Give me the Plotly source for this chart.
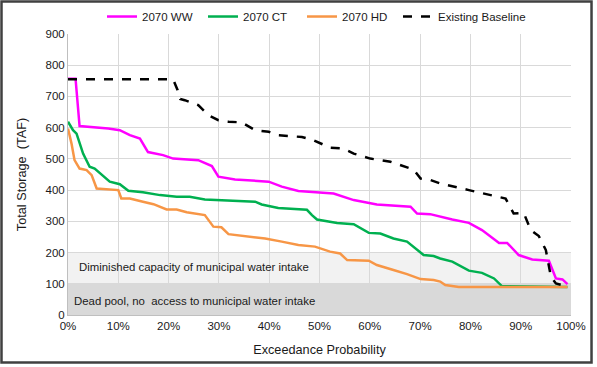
import plotly.graph_objects as go

# ---- data (exceedance probability in %, storage in TAF) ----
ww_x = [0, 1.5, 2.3, 6.3, 8.0, 10.3, 12.3, 14.3, 15.9, 18.9, 20.9, 25.9, 28.6, 29.9, 33.2, 39.9,
        42.5, 45.8, 49.1, 52.8, 56.8, 61.4, 68.1, 69.4, 72.0, 74.0, 76.4, 79.7, 82.3, 85.7, 87.3,
        89.6, 92.3, 95.6, 97.0, 98.3, 99.3]
ww_y = [757, 757, 605, 600, 597, 592, 576, 565, 522, 512, 501, 496, 477, 443, 434, 427,
        411, 397, 393, 389, 368, 354, 347, 325, 323, 315, 306, 295, 272, 231, 231,
        192, 178, 174, 117, 114, 99]

ct_x = [0, 1.0, 1.7, 3.0, 4.3, 5.3, 8.3, 10.3, 12.0, 14.9, 18.3, 21.6, 24.2, 27.2, 37.2, 38.5,
        41.8, 46.5, 47.5, 48.5, 49.5, 53.5, 56.8, 59.8, 62.1, 64.7, 67.4, 70.7, 72.7, 74.0, 76.4,
        79.7, 82.3, 84.7, 86.3, 99.3]
ct_y = [619, 592, 581, 517, 475, 469, 427, 419, 398, 393, 384, 379, 379, 370, 363, 354,
        343, 339, 337, 320, 306, 295, 291, 263, 261, 245, 235, 192, 189, 181, 171,
        142, 135, 117, 92, 90]

hd_x = [0, 0.7, 1.3, 2.3, 3.7, 4.7, 5.7, 9.0, 10.0, 10.6, 12.3, 14.9, 17.0, 19.6, 21.6, 23.6,
        27.2, 28.9, 30.5, 31.9, 35.2, 39.2, 42.5, 45.8, 49.1, 52.1, 54.1, 55.5, 59.8, 61.4, 64.7,
        67.4, 70.1, 72.7, 74.0, 75.0, 77.7, 99.3]
hd_y = [597, 549, 496, 469, 464, 448, 405, 400, 400, 373, 373, 363, 355, 338, 338, 329,
        320, 283, 281, 259, 253, 245, 235, 224, 219, 203, 197, 176, 174, 160, 144,
        131, 115, 112, 107, 96, 90, 90]

base_x = [0, 20.9, 21.8, 22.3, 23.2, 25.9, 27.9, 29.9, 31.9, 34.5, 37.2, 39.9, 41.8, 46.5, 48.8,
          52.1, 54.8, 56.8, 60.1, 64.1, 68.7, 70.1, 72.1, 74.0, 79.7, 84.3, 87.0, 88.6, 90.6,
          92.0, 93.6, 95.0, 96.0, 97.0, 99.3]
base_y = [755, 755, 720, 692, 688, 672, 640, 624, 619, 617, 592, 587, 576, 570, 560,
          536, 533, 517, 501, 491, 466, 437, 432, 421, 400, 384, 373, 325, 327,
          272, 253, 208, 123, 101, 91]

x_ticks = [0, 10, 20, 30, 40, 50, 60, 70, 80, 90, 100]
y_ticks = [0, 100, 200, 300, 400, 500, 600, 700, 800, 900]

band_dead = (0, 100)
band_dim = (100, 200)
band_dead_label = "Dead pool, no  access to municipal water intake"
band_dim_label = "Diminished capacity of municipal water intake"

FONT = "Liberation Sans, Arial, sans-serif"
TXT = "#1a1a1a"

fig = go.Figure()
fig.add_trace(go.Scatter(x=ww_x, y=ww_y, mode="lines", name="2070 WW", legend="legend",
                         line=dict(color="#FF00FF", width=2.5)))
fig.add_trace(go.Scatter(x=ct_x, y=ct_y, mode="lines", name="2070 CT", legend="legend2",
                         line=dict(color="#00B050", width=2.5)))
fig.add_trace(go.Scatter(x=hd_x, y=hd_y, mode="lines", name="2070 HD", legend="legend3",
                         line=dict(color="#F79646", width=2.5)))
fig.add_trace(go.Scatter(x=base_x, y=base_y, mode="lines", name="Existing Baseline",
                         legend="legend4",
                         line=dict(color="#000000", width=2.5, dash="dash")))

# shaded bands
fig.add_shape(type="rect", xref="x", yref="y", x0=0, x1=100, y0=band_dim[0], y1=band_dim[1],
              fillcolor="#F2F2F2", line=dict(width=0), layer="below")
fig.add_shape(type="rect", xref="x", yref="y", x0=0, x1=100, y0=band_dead[0], y1=band_dead[1],
              fillcolor="#D9D9D9", line=dict(width=0), layer="below")

fig.add_annotation(x=1.8, y=154, xref="x", yref="y", text=band_dim_label, showarrow=False,
                   xanchor="left", yanchor="middle", font=dict(family=FONT, size=11.4, color=TXT))
fig.add_annotation(x=0.7, y=45, xref="x", yref="y", text=band_dead_label, showarrow=False,
                   xanchor="left", yanchor="middle", font=dict(family=FONT, size=11.4, color=TXT))

# outer chart border
fig.add_shape(type="rect", xref="paper", yref="paper", x0=-0.1322, x1=1.0408, y0=-0.169, y1=1.1157,
              line=dict(color="#404040", width=2.5), fillcolor="rgba(0,0,0,0)", layer="above")

fig.update_xaxes(range=[0, 100], tickvals=x_ticks, ticktext=[f"{v}%" for v in x_ticks],
                 showgrid=True, gridcolor="#D9D9D9", gridwidth=1, zeroline=False,
                 showline=True, linecolor="#BFBFBF", linewidth=1, mirror=False, automargin=False,
                 ticks="", title=dict(text="Exceedance Probability", standoff=14,
                                      font=dict(family=FONT, size=12.7, color=TXT)),
                 tickfont=dict(family=FONT, size=11.5, color=TXT))
fig.update_yaxes(range=[0, 900], tickvals=y_ticks, showgrid=True, gridcolor="#D9D9D9",
                 gridwidth=1, zeroline=False, showline=True, linecolor="#BFBFBF", linewidth=1,
                 automargin=False,
                 ticks="", title=dict(text="Total Storage  (TAF)", standoff=16,
                                      font=dict(family=FONT, size=12.7, color=TXT)),
                 tickfont=dict(family=FONT, size=11.5, color=TXT))

legend_starts = [107, 208, 307, 403]
legend_common = dict(orientation="h", xanchor="left", xref="container",
                     y=0.955, yanchor="middle", yref="container",
                     font=dict(family=FONT, size=11.5, color=TXT), bgcolor="rgba(0,0,0,0)",
                     itemwidth=30, tracegroupgap=0)
legends = {}
for i, px in enumerate(legend_starts):
    key = "legend" if i == 0 else f"legend{i + 1}"
    legends[key] = dict(legend_common, x=(px - 5) / 597)

fig.update_layout(
    width=597, height=367,
    margin=dict(l=68, r=26, t=34, b=52, autoexpand=False),
    paper_bgcolor="white", plot_bgcolor="white",
    font=dict(family=FONT, size=11, color=TXT),
    showlegend=True,
    **legends,
)

fig.write_html("out.html", config={"displayModeBar": False},
               post_script="document.body.style.margin='0';")
